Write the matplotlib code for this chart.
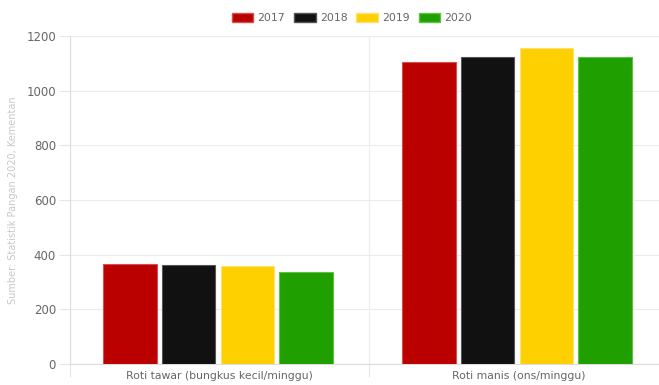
import numpy as np
import matplotlib.pyplot as plt
from matplotlib.patches import Patch

categories = ["Roti tawar (bungkus kecil/minggu)", "Roti manis (ons/minggu)"]
years = ["2017", "2018", "2019", "2020"]
values_2017 = [366, 1105]
values_2018 = [364, 1124]
values_2019 = [357, 1157]
values_2020 = [338, 1123]
colours = ["#BB0000", "#111111", "#FFD000", "#1FA000"]
edges = ["#d65050", "#555555", "#ffe070", "#60c040"]

series = [values_2017, values_2018, values_2019, values_2020]

fig = plt.figure(figsize=(6.59, 3.85), dpi=100)
ax = fig.add_axes([70 / 659, 21 / 385, 598 / 659, 328 / 385])

x = np.arange(len(categories))
slot = 0.197
for i, (vals, col, ec) in enumerate(zip(series, colours, edges)):
    ax.bar(x + (i - 1.5) * slot - 0.005, vals, width=0.18, color=col,
           edgecolor=ec, linewidth=0.8, zorder=3)

ax.set_xlim(-0.5, 1.5)
ax.set_ylim(0, 1200)
ax.set_yticks(range(0, 1201, 200))
ax.set_xticks([-0.5, 0.5, 1.5], minor=False)
ax.set_xticklabels([])
ax.set_xticks(x, minor=True)
ax.set_xticklabels(categories, minor=True)
ax.tick_params(axis="x", which="minor", length=0, pad=5, labelsize=7.8, labelcolor="#666666")
ax.tick_params(axis="x", which="major", length=9, color="#e6e6e6", width=0.8)
ax.tick_params(axis="y", length=8, color="#e6e6e6", width=0.8, labelsize=8.5, labelcolor="#666666", pad=2)

ax.grid(True, which="major", color="#ececec", linewidth=0.8, zorder=0)
for side in ["top", "right"]:
    ax.spines[side].set_visible(False)
ax.spines["left"].set_color("#dcdcdc")
ax.spines["bottom"].set_color("#dcdcdc")

ax.set_ylabel("Sumber: Statistik Pangan 2020, Kementan", color="#c8c8c8", fontsize=7, labelpad=6)

handles = [Patch(facecolor=c, edgecolor=e, label=y) for c, e, y in zip(colours, edges, years)]
fig.legend(handles=handles, loc="center", bbox_to_anchor=(352 / 659, 1 - 18 / 385), ncol=4,
           frameon=False, fontsize=7.8, handlelength=2.0, handleheight=1.0,
           columnspacing=0.8, handletextpad=0.4, labelcolor="#666666")

plt.savefig("out.png", dpi=100)
